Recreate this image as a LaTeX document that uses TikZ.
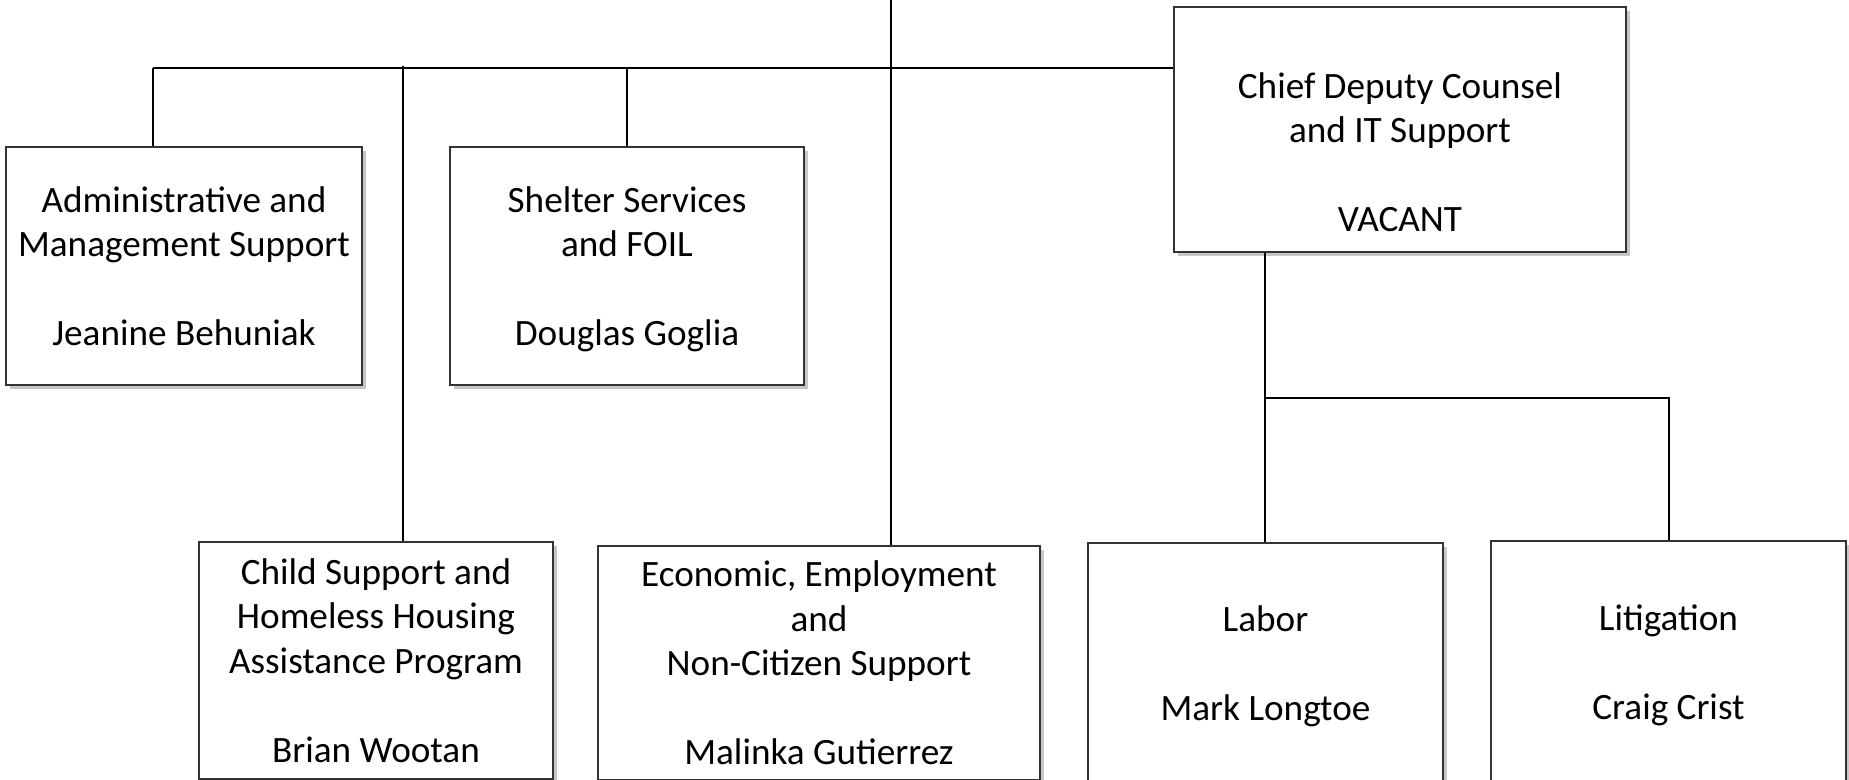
\documentclass[tikz,border=0pt]{standalone}
\usepackage{fontspec}
\setmainfont{Carlito}
\usetikzlibrary{shadows}
\pgfdeclarelayer{background}
\pgfsetlayers{background,main}
\begin{document}
\begin{tikzpicture}[x=0.5pt,y=-0.5pt,
  box/.style={draw=black!80, line width=0.8pt, fill=white, inner sep=0pt, outer sep=0pt,
    align=center, font=\fontsize{18.6}{22.25}\selectfont,
    drop shadow={shadow xshift=2pt, shadow yshift=-2pt, fill=black, opacity=0.22}},
  lbl/.style={inner sep=0pt, align=center, font=\fontsize{18.6}{22.25}\selectfont},
  conn/.style={draw=black, line width=1pt}]
\useasboundingbox (0,0) rectangle (1849,780);
\clip (0,0) rectangle (1849,780);

\node[box, minimum width=178pt, minimum height=119pt] (admin) at (184,266)
  {Administrative and\\Management Support\\[22.25pt]Jeanine Behuniak};
\node[box, minimum width=177pt, minimum height=119pt] (shelter) at (627,266)
  {Shelter Services\\and FOIL\\[22.25pt]\smash{Douglas Goglia}};
\node[box, minimum width=226pt, minimum height=122.5pt] (chief) at (1400,129.5) {};
\node[lbl] (chieftext) at (1400,152)
  {Chief Deputy Counsel\\and IT Support\\[22.25pt]VACANT};
\node[box, minimum width=177pt, minimum height=118.5pt] (child) at (376,660.5)
  {Child Support and\\Homeless Housing\\Assistance Program\\[22.25pt]Brian Wootan};
\node[box, minimum width=221pt, minimum height=117pt] (econ) at (819,663)
  {Economic, Employment\\and\\Non-Citizen Support\\[22.25pt]Malinka Gutierrez};
\node[box, minimum width=177.5pt, minimum height=120pt] (labor) at (1265.5,663)
  {Labor\\[22.25pt]\smash{Mark Longtoe}};
\node[box, minimum width=177.5pt, minimum height=121pt] (litig) at (1668.5,662)
  {Litigation\\[22.25pt]\smash{Craig Crist}};

\coordinate (top) at (891,0);
\coordinate (aL) at (153,68);
\coordinate (cL) at (403,66);
\coordinate (cd) at (1265,398);

\begin{pgfonlayer}{background}
\draw[conn] (top) -- (top |- econ.north);
\draw[conn] (aL) -- (aL -| chief.west);
\draw[conn] (aL) -- (aL |- admin.north);
\draw[conn] (shelter.north) -- (shelter.north |- aL);
\draw[conn] (cL) -- (cL |- child.north);
\draw[conn] (cd |- chief.south) -- (cd) -| (litig.north);
\draw[conn] (cd) -- (cd |- labor.north);
\end{pgfonlayer}
\end{tikzpicture}
\end{document}
